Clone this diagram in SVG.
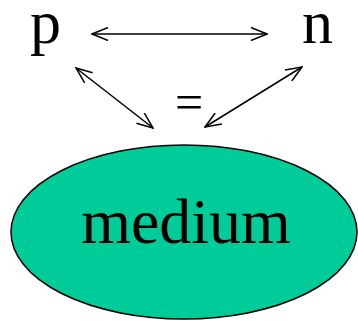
<svg xmlns="http://www.w3.org/2000/svg" width="358" height="321" viewBox="0 0 358 321">
<style>
.t{font-family:"Liberation Serif","Times New Roman",serif;fill:#000}
.c{stroke:#000;stroke-width:1.5;fill:none}
</style>
<defs>
<marker id="a" viewBox="0 0 18 14" refX="17" refY="7" markerWidth="18" markerHeight="14" markerUnits="userSpaceOnUse" orient="auto-start-reverse">
<path d="M1,0.5 L17,7 L1,13.5" fill="none" stroke="#000" stroke-width="1.5"/>
</marker>
</defs>
<rect width="358" height="321" fill="#fff"/>
<g id="connectors">
<line class="c" x1="92" y1="34" x2="267" y2="34" marker-start="url(#a)" marker-end="url(#a)"/>
<line class="c" x1="76" y1="68" x2="153" y2="128" marker-start="url(#a)" marker-end="url(#a)"/>
<line class="c" x1="302" y1="67" x2="205" y2="127" marker-start="url(#a)" marker-end="url(#a)"/>
</g>
<g id="p"><text class="t" x="30" y="43" font-size="62">p</text></g>
<g id="n"><text class="t" x="302" y="43" font-size="62">n</text></g>
<g id="eq"><text class="t" x="175" y="119" font-size="50">=</text></g>
<g id="medium">
<ellipse cx="184" cy="232" rx="173" ry="87" fill="#00CC99" stroke="#000" stroke-width="1.5"/>
<text class="t" x="186" y="243" font-size="64" text-anchor="middle">medium</text>
</g>
</svg>
